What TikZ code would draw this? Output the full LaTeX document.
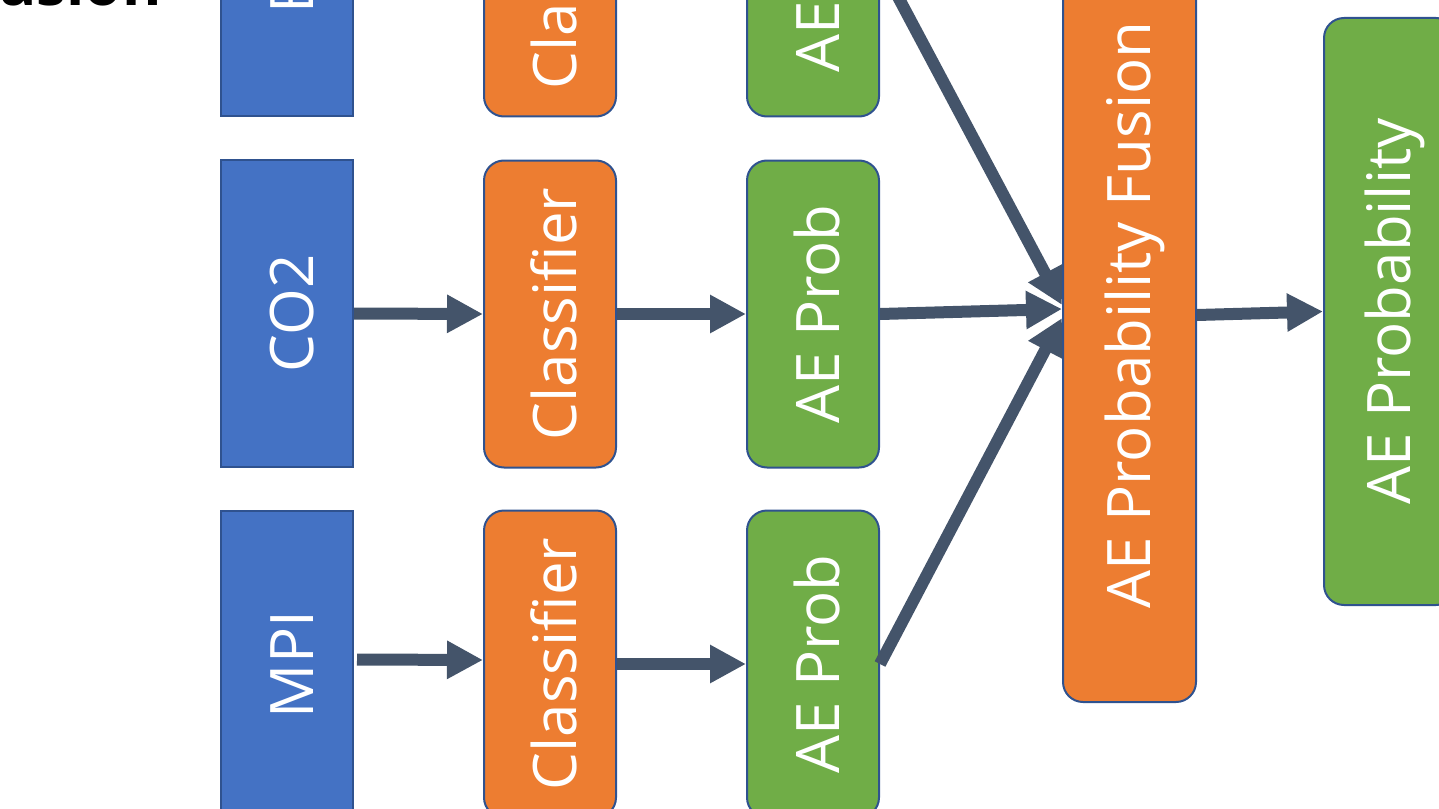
\documentclass[tikz,border=0pt]{standalone}
\usepackage{fontspec}
\setmainfont{Open Sans}
\usetikzlibrary{arrows.meta,calc}
\definecolor{cblue}{HTML}{4472C4}
\definecolor{corange}{HTML}{ED7D31}
\definecolor{cgreen}{HTML}{70AD47}
\definecolor{cedge}{HTML}{2F528F}
\definecolor{carrow}{HTML}{44546A}
\newcommand{\rlab}[1]{\rotatebox{90}{\rule[-2pt]{0pt}{30pt}#1}}
\begin{document}
\begin{tikzpicture}[x=0.5pt,y=-0.5pt,
  box/.style={draw=cedge,line width=1pt,minimum width=66pt,minimum height=153.5pt,inner sep=0pt,text=white,font=\fontsize{30}{36}\selectfont},
  inbox/.style={box,fill=cblue},
  clbox/.style={box,fill=corange,rounded corners=10pt},
  aebox/.style={box,fill=cgreen,rounded corners=10pt},
  arr/.style={draw=carrow,line width=6pt,-{Triangle[length=18pt,width=18pt]}}]
\useasboundingbox (0,0) rectangle (1439,808);
\clip (0,0) rectangle (1439,808);
% title fragment
\node[anchor=base east,inner sep=0pt,font=\fontsize{30}{36}\selectfont\bfseries] (title) at (162,6) {Late Fusion};
% inputs
\node[inbox] (in1) at (287,-37.5) {};
\node[inner sep=0pt,anchor=south,text=white,font=\fontsize{30}{36}\selectfont] (in1t) at (287,14) {\rlab{EEG}};
\node[inbox] (in2) at (287,313.5) {\rlab{CO2}};
\node[inbox] (in3) at (287,664.5) {\rlab{MPI}};
% classifiers
\node[clbox] (cl1) at (550,-37) {\rlab{Classifier}};
\node[clbox] (cl2) at (550,314) {\rlab{Classifier}};
\node[clbox] (cl3) at (550,664) {\rlab{Classifier}};
% AE prob
\node[aebox] (ae1) at (813,-37) {\rlab{AE Prob}};
\node[aebox] (ae2) at (813,314) {\rlab{AE Prob}};
\node[aebox] (ae3) at (813,664) {\rlab{AE Prob}};
% fusion
\node[clbox,minimum width=66.5pt,minimum height=387pt] (fus) at (1129.5,315) {\rlab{AE Probability Fusion}};
% output
\node[aebox,minimum height=293.5pt] (out) at (1390,311.5) {\rlab{AE Probability}};
% connectors
\draw[arr] (in2.east) -- (cl2.west);
\draw[arr] (cl2.east) -- (ae2.west);
\draw[arr] ([xshift=1.5pt,yshift=2.5pt]in3.east) -- ([yshift=2pt]cl3.west);
\draw[arr] (cl3.east) -- (ae3.west);
\draw[arr] (ae1.east) -- ([yshift=5pt]fus.west);
\draw[arr] (ae2.east) -- ([yshift=3pt]fus.west);
\draw[arr] (ae3.east) -- ([yshift=-1.5pt]fus.west);
\draw[arr] (fus.east) -- (out.west);
\end{tikzpicture}
\end{document}
